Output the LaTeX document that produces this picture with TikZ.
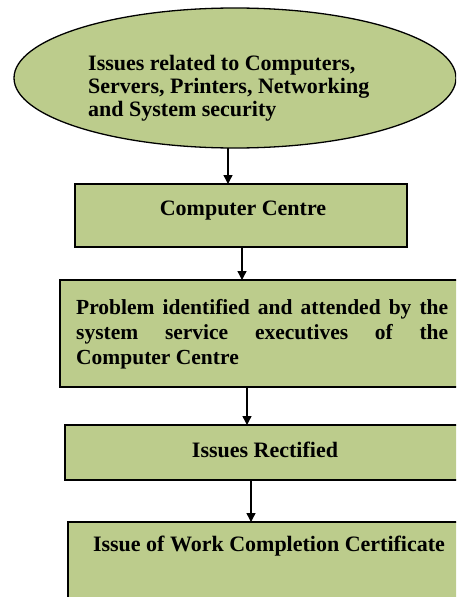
\documentclass[tikz,border=0pt]{standalone}
\usepackage{fontspec}
\setmainfont{Liberation Serif}
\usetikzlibrary{arrows.meta}
\definecolor{olive}{RGB}{188,204,140}
\tikzset{
  flowbox/.style={draw=black, line width=1.6pt, fill=olive},
  lbl/.style={font=\bfseries\fontsize{22}{23}\selectfont, inner sep=0pt},
  flowarrow/.style={draw=black, line width=1.4pt, -{Triangle[length=9pt,width=9pt]}}
}
\begin{document}
\begin{tikzpicture}[x=1pt,y=-1pt]
\useasboundingbox (0,0) rectangle (456,597);
\clip (0,0) rectangle (456,597);
% ellipse
\draw[flowbox, line width=1.3pt] (235,78) ellipse [x radius=221, y radius=70];
\node[lbl, anchor=west, align=left] (e) at (88,88) {Issues related to Computers,\\Servers, Printers, Networking\\and System security};
% box 1
\draw[flowbox] (75,184) rectangle (407,247);
\node[lbl] (b1) at (243,211) {Computer Centre};
% box 2
\draw[flowbox] (60,280) rectangle (470,387);
\node[lbl, anchor=west, align=left, font=\bfseries\fontsize{21.5}{25}\selectfont] (b2) at (76,334) {\makebox[372pt][s]{Problem identified and attended by the}\\\makebox[372pt][s]{system service executives of the}\\Computer Centre};
% box 3
\draw[flowbox] (65,425) rectangle (470,480);
\node[lbl] (b3) at (265,450) {Issues Rectified};
% box 4
\draw[flowbox] (68,522) rectangle (470,620);
\node[lbl] (b4) at (269,546) {Issue of Work Completion Certificate};
% arrows
\coordinate (a1s) at (228,148); \coordinate (a1e) at (228,184);
\coordinate (a2s) at (242,247); \coordinate (a2e) at (242,280);
\coordinate (a3s) at (247,387); \coordinate (a3e) at (247,425);
\coordinate (a4s) at (251,480); \coordinate (a4e) at (251,522);
\draw[flowarrow] (a1s) -- (a1e);
\draw[flowarrow] (a2s) -- (a2e);
\draw[flowarrow] (a3s) -- (a3e);
\draw[flowarrow] (a4s) -- (a4e);
\end{tikzpicture}
\end{document}
